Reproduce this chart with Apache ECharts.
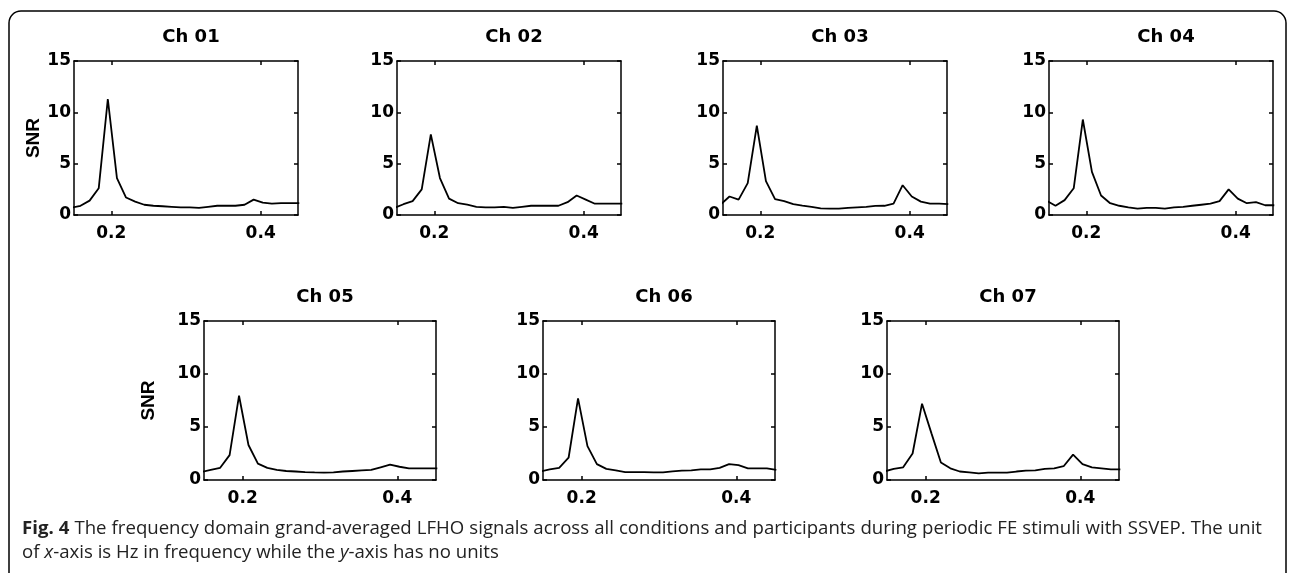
<!DOCTYPE html>
<html>
<head>
<meta charset="utf-8">
<script src="https://cdn.jsdelivr.net/npm/echarts@6/dist/echarts.min.js"></script>
<style>
  html, body { margin: 0; padding: 0; background: #fff; }
  #chart { width: 1290px; height: 573px; }
</style>
</head>
<body>
<div id="chart"></div>
<script>
// frequency bins (Hz)
const freqs = [0.1465, 0.1587, 0.1709, 0.1831, 0.1953, 0.2075, 0.2197, 0.2319, 0.2441, 0.2563, 0.2686, 0.2808, 0.2930,
  0.3052, 0.3174, 0.3296, 0.3418, 0.3540, 0.3662, 0.3784, 0.3906, 0.4028, 0.4150, 0.4272, 0.4395, 0.4517];

const ch01 = [0.7, 0.9, 1.4, 2.6, 11.3, 3.6, 1.7, 1.3, 1.0, 0.9, 0.85, 0.8, 0.75, 0.75, 0.7, 0.8, 0.9, 0.9, 0.9, 1.0, 1.5, 1.2, 1.1, 1.15, 1.15, 1.15];
const ch02 = [0.7, 1.05, 1.35, 2.5, 7.85, 3.6, 1.6, 1.15, 1.0, 0.8, 0.75, 0.75, 0.8, 0.7, 0.8, 0.9, 0.9, 0.9, 0.9, 1.25, 1.9, 1.5, 1.1, 1.1, 1.1, 1.1];
const ch03 = [1.0, 1.8, 1.5, 3.1, 8.7, 3.3, 1.55, 1.35, 1.05, 0.92, 0.8, 0.65, 0.62, 0.62, 0.7, 0.75, 0.8, 0.88, 0.9, 1.1, 2.9, 1.8, 1.3, 1.1, 1.1, 1.05];
const ch04 = [1.4, 0.9, 1.45, 2.6, 9.3, 4.2, 1.9, 1.15, 0.9, 0.75, 0.62, 0.7, 0.7, 0.62, 0.75, 0.8, 0.9, 1.0, 1.1, 1.35, 2.5, 1.6, 1.15, 1.25, 0.95, 0.95];
const ch05 = [0.75, 0.95, 1.15, 2.35, 7.95, 3.3, 1.55, 1.15, 0.95, 0.85, 0.8, 0.75, 0.72, 0.7, 0.72, 0.8, 0.85, 0.9, 0.95, 1.2, 1.45, 1.25, 1.1, 1.1, 1.1, 1.1];
const ch06 = [0.8, 1.0, 1.15, 2.1, 7.7, 3.2, 1.5, 1.05, 0.9, 0.75, 0.75, 0.75, 0.72, 0.72, 0.82, 0.88, 0.9, 1.0, 1.0, 1.15, 1.5, 1.4, 1.1, 1.1, 1.1, 0.95];
const ch07 = [0.8, 1.05, 1.2, 2.5, 7.2, 4.4, 1.65, 1.1, 0.8, 0.72, 0.63, 0.69, 0.69, 0.69, 0.8, 0.88, 0.9, 1.05, 1.1, 1.3, 2.4, 1.5, 1.2, 1.1, 1.0, 1.0];

const channelNames = ["Ch 01", "Ch 02", "Ch 03", "Ch 04", "Ch 05", "Ch 06", "Ch 07"];
const channelData = [ch01, ch02, ch03, ch04, ch05, ch06, ch07];
const xTicks = [0.2, 0.4];
const xRange = [0.15, 0.45];
const yRange = [0, 15];
const yStep = 5;

const captionLine1 = "The frequency domain grand-averaged LFHO signals across all conditions and participants during periodic FE stimuli with SSVEP. The unit";
const captionLine2 = "of {i|x}-axis is Hz in frequency while the {i|y}-axis has no units";

// panel boxes in px
const panels = [
  { left: 74, top: 61, width: 224, height: 154, snrGap: 27 },
  { left: 397, top: 61, width: 224, height: 154 },
  { left: 723, top: 61, width: 224, height: 154 },
  { left: 1049, top: 61, width: 224, height: 154 },
  { left: 204, top: 321, width: 232, height: 159, snrGap: 46 },
  { left: 543, top: 321, width: 232, height: 159 },
  { left: 887, top: 321, width: 232, height: 159 },
];

const tickFont = { color: "#000", fontFamily: "DejaVu Sans", fontWeight: "bold", fontSize: 17 };
const lineStyle = { color: "#000", width: 1.5 };

const chart = echarts.init(document.getElementById("chart"));

const grid = [], xAxis = [], yAxis = [], series = [], title = [];

panels.forEach((p, i) => {
  grid.push({ left: p.left, top: p.top, width: p.width, height: p.height });
  title.push({
    text: channelNames[i],
    left: p.left + p.width / 2,
    top: p.top - 38,
    textAlign: "center",
    textStyle: { color: "#000", fontFamily: "DejaVu Sans", fontWeight: "bold", fontSize: 18 },
  });
  // bottom + top x axes
  xAxis.push({
    type: "value", gridIndex: i, min: xRange[0], max: xRange[1], position: "bottom",
    axisLine: { onZero: false, lineStyle },
    axisTick: { inside: true, length: 4, customValues: xTicks, lineStyle },
    axisLabel: { customValues: xTicks, margin: 10, formatter: (v) => v.toFixed(1), ...tickFont },
    splitLine: { show: false },
  });
  xAxis.push({
    type: "value", gridIndex: i, min: xRange[0], max: xRange[1], position: "top",
    axisLine: { onZero: false, lineStyle },
    axisTick: { inside: true, length: 4, customValues: xTicks, lineStyle },
    axisLabel: { show: false },
    splitLine: { show: false },
  });
  // left + right y axes
  const yLeft = {
    type: "value", gridIndex: i, min: yRange[0], max: yRange[1], interval: yStep, position: "left",
    axisLine: { show: true, onZero: false, lineStyle },
    axisTick: { show: true, inside: true, length: 4, lineStyle },
    axisLabel: { margin: 3, ...tickFont },
    splitLine: { show: false },
  };
  if (p.snrGap) {
    Object.assign(yLeft, {
      name: "SNR", nameLocation: "middle", nameRotate: 90, nameGap: p.snrGap,
      nameTextStyle: { color: "#000", fontFamily: "Liberation Sans", fontWeight: "bold", fontSize: 19 },
    });
  }
  yAxis.push(yLeft);
  yAxis.push({
    type: "value", gridIndex: i, min: yRange[0], max: yRange[1], interval: yStep, position: "right",
    axisLine: { show: true, onZero: false, lineStyle },
    axisTick: { show: true, inside: true, length: 4, lineStyle },
    axisLabel: { show: false },
    splitLine: { show: false },
  });
  series.push({
    type: "line",
    name: channelNames[i],
    xAxisIndex: i * 2,
    yAxisIndex: i * 2,
    data: freqs.map((f, k) => [f, channelData[i][k]]),
    showSymbol: false,
    clip: true,
    lineStyle: { color: "#000", width: 1.8 },
    animation: false,
  });
});

// justified first caption line: lay out words across the full width
const capSize = 18.6, capFont = '"Open Sans"', capLeft = 22, capRight = 1262;
const ctx = document.createElement("canvas").getContext("2d");
const words = [{ t: "Fig.", b: true }, { t: "4", b: true }].concat(captionLine1.split(" ").map((t) => ({ t, b: false })));
words.forEach((w) => {
  ctx.font = (w.b ? "bold " : "") + capSize + "px " + capFont;
  w.w = ctx.measureText(w.t).width;
});
const total = words.reduce((s, w) => s + w.w, 0);
const gap = (capRight - capLeft - total) / (words.length - 1);
const captionWords = [];
let cx = capLeft;
words.forEach((w) => {
  captionWords.push({
    type: "text", x: cx, y: 519, silent: true,
    style: { text: w.t, fontFamily: "Open Sans", fontWeight: w.b ? "bold" : "normal", fontSize: capSize, fill: "#222", textVerticalAlign: "top" },
  });
  cx += w.w + gap;
});

chart.setOption({
  backgroundColor: "#fff",
  animation: false,
  title,
  grid,
  xAxis,
  yAxis,
  series,
  graphic: [
    {
      type: "rect",
      shape: { x: 9, y: 11, width: 1277, height: 640, r: 12 },
      style: { fill: "none", stroke: "#000", lineWidth: 1.5 },
      silent: true,
    },
    ...captionWords,
    {
      type: "text",
      x: capLeft,
      y: 543,
      silent: true,
      style: {
        text: captionLine2,
        fontFamily: "Open Sans",
        fontSize: capSize,
        fill: "#222",
        textVerticalAlign: "top",
        rich: { i: { fontFamily: "Open Sans", fontStyle: "italic", fontSize: capSize, fill: "#222" } },
      },
    },
  ],
});
</script>
</body>
</html>
